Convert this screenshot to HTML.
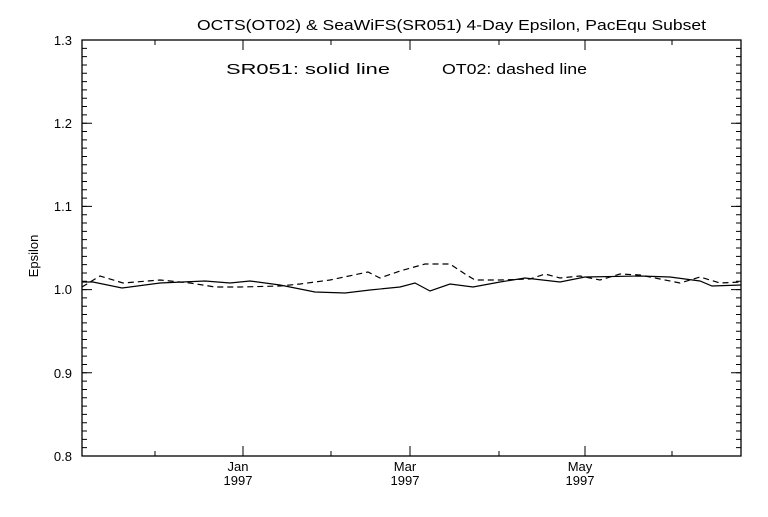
<!DOCTYPE html><html><head><style>body{margin:0;background:#fff}</style></head><body>
<svg width="768" height="512" viewBox="0 0 768 512" xmlns="http://www.w3.org/2000/svg" font-family="Liberation Sans, sans-serif">
<rect width="768" height="512" fill="#fff"/>
<text x="197" y="30" font-size="15" textLength="509" lengthAdjust="spacingAndGlyphs">OCTS(OT02) &amp; SeaWiFS(SR051) 4-Day Epsilon, PacEqu Subset</text>
<text x="226" y="74" font-size="15" textLength="164" lengthAdjust="spacingAndGlyphs">SR051: solid line</text>
<text x="442" y="74" font-size="15" textLength="145" lengthAdjust="spacingAndGlyphs">OT02: dashed line</text>
<rect x="82" y="40" width="659" height="416" fill="none" stroke="#000" stroke-width="1.3"/>
<g stroke="#000">
<line x1="84.5" y1="456.5" x2="84.5" y2="39" stroke-width="5" stroke-dasharray="1,7.32"/>
<line x1="738.5" y1="456.5" x2="738.5" y2="39" stroke-width="5" stroke-dasharray="1,7.32"/>
<path d="M82 456H92M82 372.8H92M82 289.6H92M82 206.4H92M82 123.2H92M82 40H92M741 456H731M741 372.8H731M741 289.6H731M741 206.4H731M741 123.2H731M741 40H731"/>
</g>
<g font-size="13" text-anchor="end">
<text x="72" y="461">0.8</text><text x="72" y="378">0.9</text><text x="72" y="294">1.0</text><text x="72" y="211">1.1</text><text x="72" y="128">1.2</text><text x="72" y="45">1.3</text>
</g>
<text transform="translate(38,256) rotate(-90)" font-size="13" text-anchor="middle">Epsilon</text>
<g stroke="#000">
<line x1="243" y1="456" x2="243" y2="446"/><line x1="410" y1="456" x2="410" y2="446"/><line x1="585" y1="456" x2="585" y2="446"/>
<line x1="155" y1="456" x2="155" y2="451"/><line x1="331" y1="456" x2="331" y2="451"/><line x1="499" y1="456" x2="499" y2="451"/><line x1="672" y1="456" x2="672" y2="451"/>
<line x1="243" y1="40" x2="243" y2="50"/><line x1="410" y1="40" x2="410" y2="50"/><line x1="585" y1="40" x2="585" y2="50"/>
<line x1="155" y1="40" x2="155" y2="45"/><line x1="331" y1="40" x2="331" y2="45"/><line x1="499" y1="40" x2="499" y2="45"/><line x1="672" y1="40" x2="672" y2="45"/>
</g>
<g font-size="13" text-anchor="middle">
<text x="238" y="471">Jan</text><text x="238" y="485">1997</text>
<text x="405" y="471">Mar</text><text x="405" y="485">1997</text>
<text x="580" y="471">May</text><text x="580" y="485">1997</text>
</g>
<polyline fill="none" stroke="#000" stroke-width="1.2" points="82,282 93,282 122,288 160,283 205,281 230,283 250,281 280,285 315,292 345,293 370,290 400,287 415,283 430,291 450,284 473,287 500,282 525,278 560,282 585,277 640,276 670,277 700,281 712,286 741,285"/>
<polyline fill="none" stroke="#000" stroke-width="1.2" stroke-dasharray="6,4" points="82,287 100,276 123,283 160,280 190,283 215,287 240,287 280,286 300,284 330,280 368,272 380,278 400,271 425,264 450,264 465,274 475,280 500,280 530,279 545,274 560,278 580,276 600,280 620,274 640,275 660,279 680,283 700,277 720,283 741,282"/>
</svg></body></html>
